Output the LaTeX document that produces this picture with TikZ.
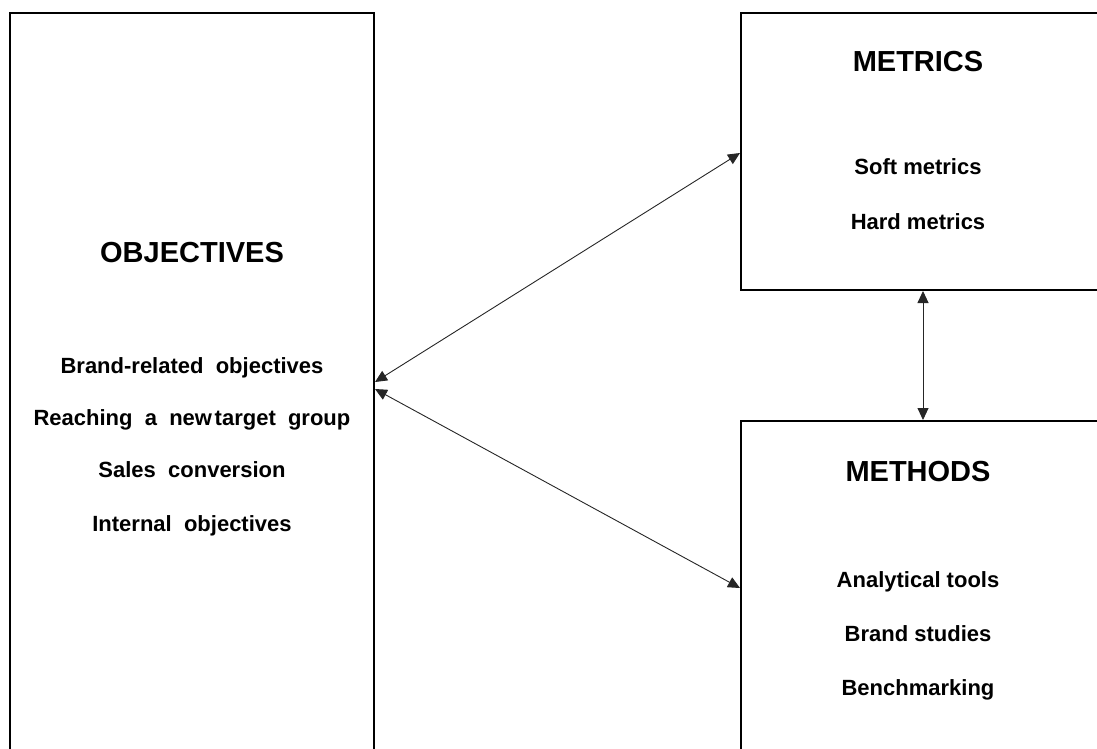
\documentclass[tikz,border=0pt]{standalone}
\usepackage{fontspec}
\setmainfont{Liberation Sans}
\usetikzlibrary{arrows.meta}
\begin{document}
\begin{tikzpicture}[x=1pt,y=-1pt,
  panel/.style={draw=black,line width=1.8pt,rectangle,inner sep=0pt},
  head/.style={font=\bfseries\fontsize{29}{34}\selectfont,anchor=base,inner sep=0pt},
  item/.style={font=\bfseries\fontsize{22}{26}\selectfont,anchor=base,inner sep=0pt},
  link/.style={draw=black!85,line width=0.9pt,
    {Triangle[length=12pt,width=11pt]}-{Triangle[length=12pt,width=11pt]}}]
  \useasboundingbox (0,0) rectangle (1097,749);
  \clip (0,0) rectangle (1097,749);

  % three panels; the lower edges run past the page
  \node[panel,minimum width=364pt,minimum height=757pt] (obj) at (192,391.5) {};
  \node[panel,minimum width=360pt,minimum height=277pt] (met) at (921,151.5) {};
  \node[panel,minimum width=360pt,minimum height=349pt] (meth) at (921,595.5) {};

  % objectives
  \node[head] (objT) at (192,262) {OBJECTIVES};
  \node[item] (o1) at (192,373) {Brand-related\ \ objectives};
  \node[item] (o2) at (192,425) {Reaching\ \ a\ \ new\hspace{0.12em}target\ \ group};
  \node[item] (o3) at (192,477) {Sales\ \ conversion};
  \node[item] (o4) at (192,531) {Internal\ \ objectives};

  % metrics
  \node[head] (metT) at (918,72) {METRICS};
  \node[item] (m1) at (918,174) {Soft metrics};
  \node[item] (m2) at (918,229) {Hard metrics};

  % methods
  \node[head] (methT) at (918,481) {METHODS};
  \node[item] (h1) at (918,587) {Analytical tools};
  \node[item] (h2) at (918,641) {Brand studies};
  \node[item] (h3) at (918,695) {Benchmarking};

  % connector ends on the panel edges
  \coordinate (objU) at (375,382);
  \coordinate (objL) at (375,389);
  \coordinate (metIn) at (740,153);
  \coordinate (methIn) at (740,588);
  \coordinate (metB) at (923,291);
  \coordinate (methT2) at (923,420);

  \draw[link] (objU) -- (metIn);
  \draw[link] (objL) -- (methIn);
  \draw[link] (metB) -- (methT2);
\end{tikzpicture}
\end{document}
